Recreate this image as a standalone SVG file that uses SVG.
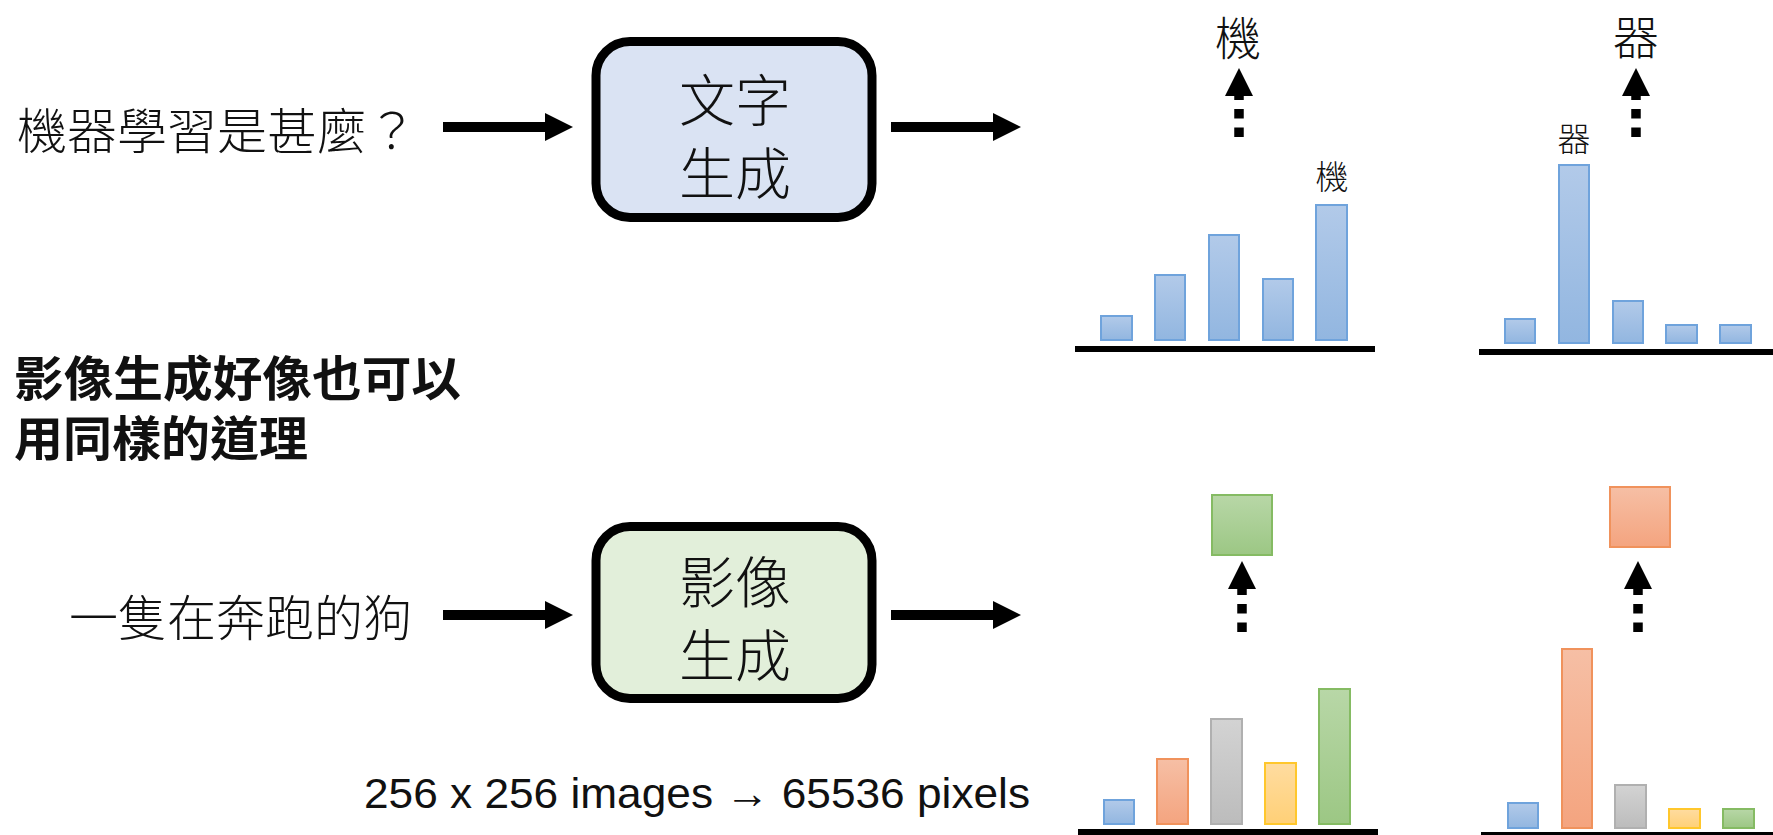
<svg xmlns="http://www.w3.org/2000/svg" width="1773" height="835" viewBox="0 0 1773 835">
<style>
.cjk{font-family:"Noto Sans CJK TC","Noto Sans CJK SC",sans-serif;fill:#111;dominant-baseline:central;font-weight:300}
.bold{font-weight:700}
.box{stroke:#000;stroke-width:9}
.conn{stroke:#000;stroke-width:10;fill:none}
.dot{stroke:#000;stroke-width:9.5;fill:none;stroke-dasharray:9.5 9}
.base{stroke:#000;stroke-width:6}
.bb{fill:url(#gB);stroke:#6fa3dc;stroke-width:2}
.bo{fill:url(#gO);stroke:#f0925c;stroke-width:2}
.bg{fill:url(#gG);stroke:#b0b0b0;stroke-width:2}
.by{fill:url(#gY);stroke:#ffc72c;stroke-width:2}
.bn{fill:url(#gN);stroke:#85bb63;stroke-width:2}
</style>
<defs>
<linearGradient id="gB" x1="0" y1="0" x2="0" y2="1"><stop offset="0" stop-color="#b2cae9"/><stop offset="1" stop-color="#92b6e0"/></linearGradient>
<linearGradient id="gO" x1="0" y1="0" x2="0" y2="1"><stop offset="0" stop-color="#f6bfa5"/><stop offset="1" stop-color="#f4a47f"/></linearGradient>
<linearGradient id="gG" x1="0" y1="0" x2="0" y2="1"><stop offset="0" stop-color="#d3d3d3"/><stop offset="1" stop-color="#bcbcbc"/></linearGradient>
<linearGradient id="gY" x1="0" y1="0" x2="0" y2="1"><stop offset="0" stop-color="#ffdca0"/><stop offset="1" stop-color="#ffd077"/></linearGradient>
<linearGradient id="gN" x1="0" y1="0" x2="0" y2="1"><stop offset="0" stop-color="#b8d7a7"/><stop offset="1" stop-color="#9cc784"/></linearGradient>
<marker id="ah" markerUnits="userSpaceOnUse" markerWidth="29" markerHeight="29" refX="0" refY="14" orient="auto" overflow="visible"><path d="M0,0 L28,14 L0,28 Z" fill="#000"/></marker>
</defs>

<g id="q-text"><text class="cjk" x="17" y="127" font-size="49" textLength="400" lengthAdjust="spacingAndGlyphs">機器學習是甚麼？</text></g>
<g id="note"><text class="cjk bold" x="14" y="375" font-size="48" textLength="447" lengthAdjust="spacingAndGlyphs">影像生成好像也可以</text><text class="cjk bold" x="14" y="435" font-size="48" textLength="294" lengthAdjust="spacingAndGlyphs">用同樣的道理</text></g>
<g id="dog-text"><text class="cjk" x="69" y="614" font-size="49">一隻在奔跑的狗</text></g>
<g id="pixels-text"><text x="364" y="808" font-family="'Liberation Sans',Arial,sans-serif" font-size="43" fill="#111" textLength="666" lengthAdjust="spacingAndGlyphs">256 x 256 images → 65536 pixels</text></g>

<g id="box-text">
<rect class="box" x="596" y="41.5" width="276" height="176" rx="34" fill="#dae3f3"/>
<text class="cjk" x="735" y="96" font-size="56" text-anchor="middle">文字</text>
<text class="cjk" x="735" y="169" font-size="56" text-anchor="middle">生成</text>
</g>
<g id="box-image">
<rect class="box" x="596" y="526.5" width="276" height="172" rx="34" fill="#e2efda"/>
<text class="cjk" x="735" y="578" font-size="56" text-anchor="middle">影像</text>
<text class="cjk" x="735" y="651" font-size="56" text-anchor="middle">生成</text>
</g>

<g id="chart-1">
<rect class="bb" x="1101" y="316" width="31" height="24"/>
<rect class="bb" x="1155" y="275" width="30" height="65"/>
<rect class="bb" x="1209" y="235" width="30" height="105"/>
<rect class="bb" x="1263" y="279" width="30" height="61"/>
<rect class="bb" x="1316" y="205" width="31" height="135"/>
<line class="base" x1="1075" y1="349" x2="1375" y2="349"/>
<text class="cjk" x="1332" y="175" font-size="33" text-anchor="middle">機</text>
</g>
<g id="out-1"><text class="cjk" x="1238" y="35" font-size="46" text-anchor="middle">機</text></g>

<g id="chart-2">
<rect class="bb" x="1505" y="319" width="30" height="24"/>
<rect class="bb" x="1559" y="165" width="30" height="178"/>
<rect class="bb" x="1613" y="301" width="30" height="42"/>
<rect class="bb" x="1666" y="325" width="31" height="18"/>
<rect class="bb" x="1720" y="325" width="31" height="18"/>
<line class="base" x1="1479" y1="352" x2="1773" y2="352"/>
<text class="cjk" x="1574" y="137" font-size="33" text-anchor="middle">器</text>
</g>
<g id="out-2"><text class="cjk" x="1636" y="34" font-size="46" text-anchor="middle">器</text></g>

<g id="chart-3">
<rect class="bb" x="1104" y="800" width="30" height="24"/>
<rect class="bo" x="1157" y="759" width="31" height="65"/>
<rect class="bg" x="1211" y="719" width="31" height="105"/>
<rect class="by" x="1265" y="763" width="31" height="61"/>
<rect class="bn" x="1319" y="689" width="31" height="135"/>
<line class="base" x1="1078" y1="832" x2="1378" y2="832"/>
</g>
<g id="out-3"><rect class="bn" x="1212" y="495" width="60" height="60"/></g>

<g id="chart-4">
<rect class="bb" x="1508" y="803" width="30" height="25"/>
<rect class="bo" x="1562" y="649" width="30" height="179"/>
<rect class="bg" x="1615" y="785" width="31" height="43"/>
<rect class="by" x="1669" y="809" width="31" height="19"/>
<rect class="bn" x="1723" y="809" width="31" height="19"/>
<line class="base" x1="1481" y1="835" x2="1773" y2="835"/>
</g>
<g id="out-4"><rect class="bo" x="1610" y="487" width="60" height="60"/></g>

<g id="connectors">
<path class="conn" d="M443,127 H545" marker-end="url(#ah)"/>
<path class="conn" d="M891,127 H993" marker-end="url(#ah)"/>
<path class="conn" d="M443,615 H545" marker-end="url(#ah)"/>
<path class="conn" d="M891,615 H993" marker-end="url(#ah)"/>
<path class="dot" d="M1239,137 V96" marker-end="url(#ah)"/>
<path class="dot" d="M1636,137 V96" marker-end="url(#ah)"/>
<path class="dot" d="M1242,632 V589" marker-end="url(#ah)"/>
<path class="dot" d="M1638,632 V589" marker-end="url(#ah)"/>
</g>
</svg>
